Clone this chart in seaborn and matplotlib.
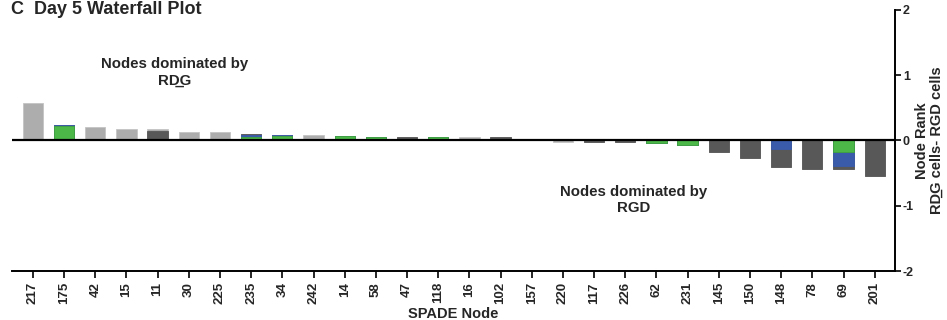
import matplotlib.pyplot as plt
import seaborn as sns
import numpy as np

sns.set_theme(style="white")
plt.rcParams['font.family'] = ['Liberation Sans', 'DejaVu Sans']

# SPADE nodes in rank order
nodes = ['217', '175', '42', '15', '11', '30', '225', '235', '34', '242', '14', '58',
         '47', '118', '16', '102', '157', '220', '117', '226', '62', '231', '145',
         '150', '148', '78', '69', '201']

# contribution of each population to the node rank (stacked outward from zero)
pink = [0, 0, 0, 0, 0.03, 0, 0, 0, 0, 0, 0, 0, 0, 0, 0, 0, 0, 0, 0, 0, 0, 0, 0, 0, 0, 0, 0, 0]
olive = [0, 0, 0, 0, 0, 0.02, 0, 0, 0, 0, 0, 0, 0, 0, 0, 0, 0, 0, 0, 0, 0, 0, 0, 0, 0, 0, 0, 0]
green = [0, 0.22, 0, 0, 0, 0, 0, 0.06, 0.075, 0, 0.065, 0.06, 0, 0.06, 0, 0, 0, 0, 0, 0,
         -0.045, -0.07, 0, 0, 0, 0, -0.17, 0]
blue = [0, 0.02, 0, 0, 0, 0, 0, 0.02, 0.015, 0, 0, 0, 0, 0, 0, 0, 0, 0, 0, 0,
        0, 0, 0, 0, -0.13, 0, -0.22, 0]
dark = [0, 0, 0, 0, 0.11, 0, 0, 0.025, 0, 0, 0, 0, 0.06, 0, 0, 0.05, 0, 0, -0.03, -0.025,
        0, 0, -0.18, -0.27, -0.27, -0.43, -0.05, -0.54]
light = [0.575, 0, 0.21, 0.18, 0.03, 0.11, 0.13, 0, 0, 0.08, 0, 0, 0, 0, 0.06, 0, 0, -0.02,
         0, 0, 0, 0, 0, 0, 0, 0, 0, 0]

layers = [pink, olive, green, blue, dark, light]
colors = ['#E0769C', '#7D7354', '#4CB848', '#3A5BAA', '#585858', '#ADADAD']
edges = ['#E0769C', '#7D7354', '#3FA33E', '#3A5BAA', '#585858', '#C4C4C4']

fig = plt.figure(figsize=(9.47, 3.2), dpi=100)
ax = fig.add_axes([0.0127, 0.153, 0.932, 0.816])

cum = np.cumsum(np.array(layers), axis=0)
# draw outermost cumulative first, inner layers on top
for i in range(len(layers) - 1, -1, -1):
    sns.barplot(x=nodes, y=cum[i], order=nodes, color=colors[i], saturation=1,
                width=0.65, edgecolor=edges[i], linewidth=0.6, ax=ax)

ax.axhline(0, color='black', lw=1.6, zorder=5)

ax.set_ylim(-2, 2)
ax.set_xlim(-0.67, len(nodes) - 1 + 0.64)
ax.set_yticks([-2, -1, 0, 1, 2])
ax.set_yticklabels(['-2', '-1', '0', '1', '2'], fontsize=9, fontweight='bold')
ax.yaxis.tick_right()
ax.yaxis.set_label_position('right')
ax.tick_params(axis='y', direction='out', length=4, width=1.2, pad=2, color='black', right=True)
ax.tick_params(axis='x', direction='out', length=5, width=1.2, pad=3, color='black', bottom=True)
for lab in ax.get_xticklabels():
    lab.set_rotation(90)
    lab.set_fontsize(9.5)
    lab.set_fontweight('bold')

for s in ['top', 'left']:
    ax.spines[s].set_visible(False)
for s in ['bottom', 'right']:
    ax.spines[s].set_color('black')
    ax.spines[s].set_linewidth(1.4)

ax.set_xlabel('SPADE Node', fontsize=10.5, fontweight='bold', labelpad=2)
ax.set_ylabel('Node Rank\nRD\u0332G cells- RGD cells', fontsize=10.5, fontweight='bold',
              rotation=90, labelpad=1, linespacing=1.05)

ax.text(4.55, 1.05, 'Nodes dominated by\nRD\u0332G', ha='center', va='center',
        fontsize=10.8, fontweight='bold', linespacing=1.25)
ax.text(19.26, -0.91, 'Nodes dominated by\nRGD', ha='center', va='center',
        fontsize=10.8, fontweight='bold', linespacing=1.25)

fig.text(0.012, 0.997, 'C  Day 5 Waterfall Plot', fontsize=13, fontweight='bold',
         va='top', ha='left')

plt.savefig('out.png', dpi=100)
